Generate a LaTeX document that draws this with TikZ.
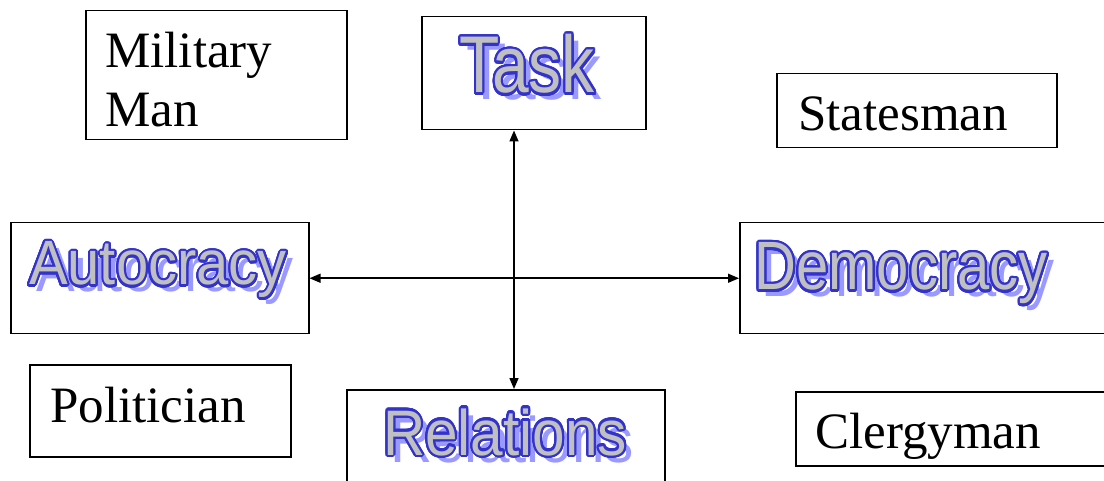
\documentclass[tikz,border=0pt]{standalone}
\usepackage{fontspec}
\setmainfont{Liberation Serif}
\newfontfamily\artfont{Liberation Sans}
\usepackage[copies]{contour}
\usetikzlibrary{arrows.meta}
\definecolor{artblue}{RGB}{51,51,204}
\definecolor{shadeblue}{RGB}{153,153,255}
\definecolor{artgray}{RGB}{192,192,192}
\contourlength{2pt}
\contournumber{32}
\newcommand{\artword}[3]{\scalebox{1}[#2]{\fontsize{#1}{#1}\artfont #3}}

\begin{document}
\begin{tikzpicture}[x=1pt,y=-1pt]
	\tikzstyle{framebox}=[draw=black,line width=1.5pt,inner sep=0pt,anchor=north west]
	\tikzstyle{plainlabel}=[inner sep=0pt,anchor=base west,font=\fontsize{51}{59}\selectfont]
	\tikzstyle{shadowtext}=[inner sep=0pt,anchor=base,text=shadeblue]
	\tikzstyle{arttext}=[inner sep=0pt,anchor=base,text=artgray]
	\tikzstyle{link}=[line width=1.5pt,{Triangle[length=11pt,width=9pt]}-{Triangle[length=11pt,width=9pt]}]
	\useasboundingbox (0,0) rectangle (1104,481);
	\clip (0,0) rectangle (1104,481);
	% boxes
	\node[framebox,minimum width=261pt,minimum height=129pt](military) at (85,10){};
	\node[framebox,minimum width=224pt,minimum height=113pt](task) at (421,16){};
	\node[framebox,minimum width=280pt,minimum height=74pt](statesman) at (776,73){};
	\node[framebox,minimum width=298pt,minimum height=111pt](autocracy) at (10,222){};
	\node[framebox,minimum width=400pt,minimum height=111pt](democracy) at (739,222){};
	\node[framebox,minimum width=261pt,minimum height=92pt](politician) at (29,364){};
	\node[framebox,minimum width=318pt,minimum height=120pt](relations) at (346,389){};
	\node[framebox,minimum width=340pt,minimum height=74pt](clergyman) at (795,391){};
	% plain names
	\node[plainlabel,align=left](militaryname) at (105,127){Military\\Man};
	\node[plainlabel](statesmanname) at (798,131){Statesman};
	\node[plainlabel](politicianname) at (50,422){Politician};
	\node[plainlabel](clergymanname) at (815,448){Clergyman};
	% word art
	\node[shadowtext](taskshadow) at (534,100){\artword{66}{1.22}{Task}};
	\node[arttext](taskword) at (527,93){\artword{66}{1.22}{\contour{artblue}{Task}}};
	\node[shadowtext](autocracyshadow) at (165,292){\artword{58}{1.08}{Autocracy}};
	\node[arttext](autocracyword) at (158,285){\artword{58}{1.08}{\contour{artblue}{Autocracy}}};
	\node[shadowtext](democracyshadow) at (908,297){\artword{58}{1.18}{Democracy}};
	\node[arttext](democracyword) at (901,290){\artword{58}{1.18}{\contour{artblue}{Democracy}}};
	\node[shadowtext](relationsshadow) at (512,462){\artword{58.5}{1.1}{Relations}};
	\node[arttext](relationsword) at (505,455){\artword{58.5}{1.1}{\contour{artblue}{Relations}}};
	% axes
	\coordinate (axis) at (514,278);
	\draw[link] (task.south -| axis) -- (relations.north -| axis);
	\draw[link] (autocracy.east) -- (democracy.west);
\end{tikzpicture}
\end{document}
